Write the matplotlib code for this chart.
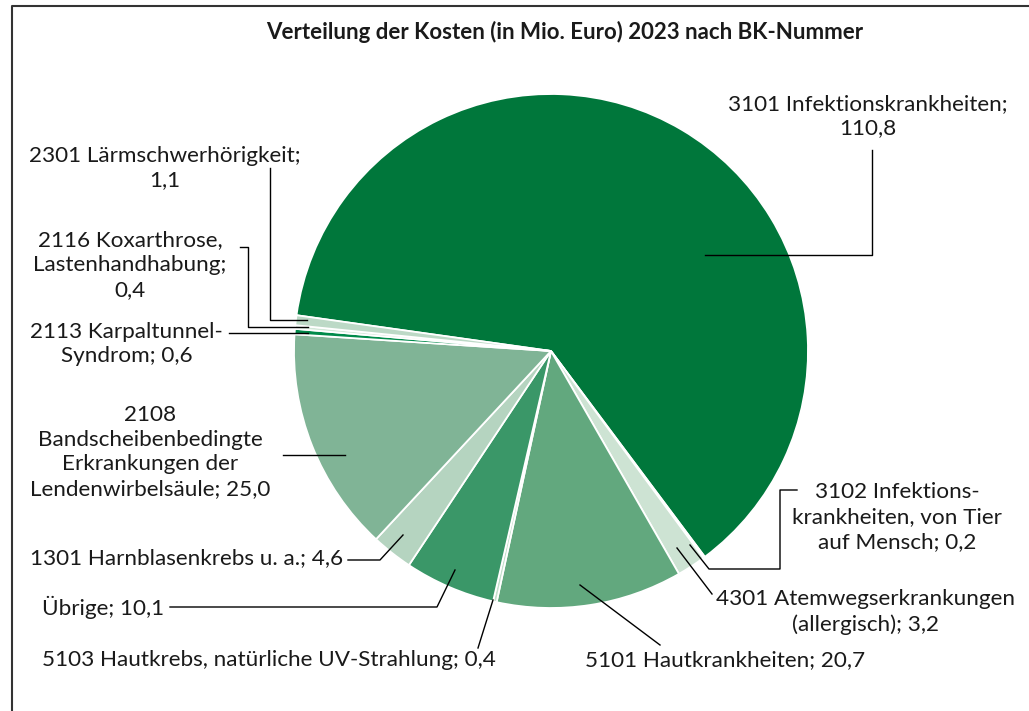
import matplotlib.pyplot as plt

plt.rcParams['font.family'] = ['Lato', 'DejaVu Sans']

# data (Mio. Euro), clockwise from 3101
codes = ["3101", "3102", "4301", "5101", "5103", "Übrige", "1301", "2108", "2113", "2116", "2301"]
costs = [110.8, 0.2, 3.2, 20.7, 0.4, 10.1, 4.6, 25.0, 0.6, 0.4, 1.1]
colors = ["#00773b", "#e3f0e7", "#cde3d3", "#62a87e", "#c3dfcb", "#3a9768",
          "#b5d4c0", "#80b496", "#008a4a", "#d3e8d9", "#bcd9c6"]
labels = [
    "3101 Infektionskrankheiten;\n110,8",
    "3102 Infektions-\nkrankheiten, von Tier\nauf Mensch; 0,2",
    "4301 Atemwegserkrankungen\n(allergisch); 3,2",
    "5101 Hautkrankheiten; 20,7",
    "5103 Hautkrebs, natürliche UV-Strahlung; 0,4",
    "Übrige; 10,1",
    "1301 Harnblasenkrebs u. a.; 4,6",
    "2108\nBandscheibenbedingte\nErkrankungen der\nLendenwirbelsäule; 25,0",
    "2113 Karpaltunnel-\nSyndrom; 0,6",
    "2116 Koxarthrose,\nLastenhandhabung;\n0,4",
    "2301 Lärmschwerhörigkeit;\n1,1",
]

W, H = 1029, 711
fig = plt.figure(figsize=(W / 100, H / 100), dpi=100)
ax = fig.add_axes([0, 0, 1, 1])
ax.set_xlim(0, W)
ax.set_ylim(0, H)
ax.set_aspect('equal')
ax.axis('off')

def Y(y):
    return H - y

ax.pie(costs, colors=colors, center=(551, Y(351)), radius=257, startangle=172,
       counterclock=False, wedgeprops=dict(edgecolor='white', linewidth=1.3))
ax.set_xlim(0, W)
ax.set_ylim(0, H)

# frame (left and top only)
ax.plot([12, 12, W], [0, Y(6), Y(6)], color='#333333', lw=1.5, clip_on=False)

ax.text(565, Y(32), "Verteilung der Kosten (in Mio. Euro) 2023 nach BK-Nummer",
        ha='center', va='center', fontsize=16, fontweight='bold', color='#1a1a1a')

# label text positions: (x, y, ha)
text_pos = [
    (868, 116, 'center'),
    (897, 517, 'center'),
    (865, 612, 'center'),
    (585, 660, 'left'),
    (42, 660, 'left'),
    (42, 607, 'left'),
    (343, 558, 'right'),
    (150, 452, 'center'),
    (30, 344, 'left'),
    (130, 265, 'center'),
    (165, 168, 'center'),
]
# leader polylines in pixel coords
leaders = [
    [(705, 255), (872, 255), (872, 150)],
    [(797, 490), (780, 490), (780, 569), (709, 569), (690, 545)],
    [(712, 594), (677, 548)],
    [(660, 645), (580, 585)],
    [(478, 648), (493, 600)],
    [(170, 607), (437, 607), (455, 570)],
    [(348, 560), (380, 560), (403, 535)],
    [(283, 455), (345, 455)],
    [(229, 333), (308, 333)],
    [(240, 247), (248, 247), (248, 327), (308, 327)],
    [(270, 168), (270, 320), (307, 320)],
]

for lab, (tx, ty, ha), pts in zip(labels, text_pos, leaders):
    ax.text(tx, Y(ty), lab, ha=ha, va='center', fontsize=16.2, color='#1a1a1a',
            linespacing=1.3, multialignment='center')
    ax.plot([p[0] for p in pts], [Y(p[1]) for p in pts], color='black', lw=1)

fig.savefig("out.png", dpi=100)
